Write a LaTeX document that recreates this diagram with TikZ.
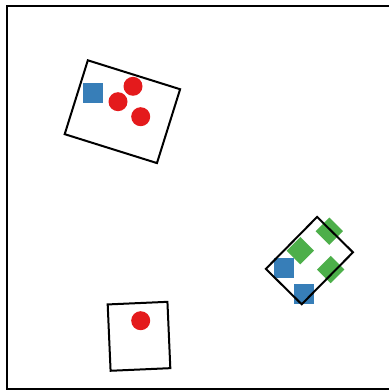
\documentclass[tikz,border=0pt]{standalone}
\usepackage{tikz}

\definecolor{setred}{HTML}{E41A1C}
\definecolor{setblue}{HTML}{377EB8}
\definecolor{setgreen}{HTML}{4DAF4A}

\begin{document}
\begin{tikzpicture}[x=1pt, y=-1pt,
    box/.style={draw=black, line width=2pt, inner sep=0pt, rectangle},
    dot/.style={circle, fill=setred, inner sep=0pt, minimum size=19pt},
    sq/.style={rectangle, fill=setblue, inner sep=0pt, minimum size=20pt},
    gem/.style={rectangle, fill=setgreen, inner sep=0pt, minimum size=19.3pt, rotate=45}]
  \useasboundingbox (0,0) rectangle (388,390);

  % Outer frame (right side runs off the page)
  \draw[line width=2pt] (7,6) rectangle (396,389);

  % Upper left box
  \node[sq] (sqA) at (93.3,92.8) {};
  \node[dot] (dotA) at (133,86.3) {};
  \node[dot] (dotB) at (118,101.7) {};
  \node[dot] (dotC) at (140.7,116.7) {};
  \node[box, minimum width=96.7pt, minimum height=77.4pt, rotate=-17.4] (boxA) at (122.4,111.7) {};

  % Lower box
  \node[dot] (dotD) at (140.7,320.7) {};
  \node[box, minimum width=59.8pt, minimum height=66.4pt, rotate=2.5] (boxB) at (139,336.3) {};

  % Right box, tilted -- outline lies on top of the markers
  \node[sq] (sqB) at (283.5,268.2) {};
  \node[sq] (sqC) at (304.2,293.7) {};
  \node[gem] (gemA) at (300.3,250.7) {};
  \node[gem] (gemB) at (329.3,231.2) {};
  \node[gem] (gemC) at (330.7,269.6) {};
  \node[box, minimum width=73pt, minimum height=50.4pt, rotate=45.4] (boxC) at (309.4,260.6) {};
\end{tikzpicture}
\end{document}
